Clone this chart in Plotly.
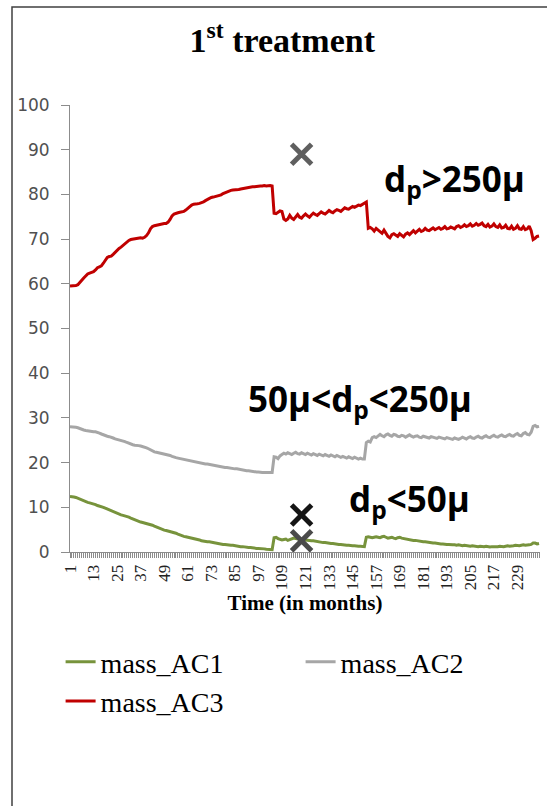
import plotly.graph_objects as go

months = list(range(1, 241))
tick_labels = ["1", "13", "25", "37", "49", "61", "73", "85", "97", "109", "121", "133",
               "145", "157", "169", "181", "193", "205", "217", "229"]

mass_AC3 = [
    59.5, 59.5, 59.6, 59.6, 59.8, 60.2, 60.8, 61.3, 61.8, 62.2, 62.4, 62.5,
    62.7, 63.1, 63.6, 63.8, 64.0, 64.6, 65.3, 65.9, 66.1, 66.2, 66.6, 67.1,
    67.5, 67.9, 68.2, 68.6, 69.0, 69.4, 69.7, 69.9, 70.0, 70.1, 70.1, 70.2,
    70.3, 70.2, 70.4, 70.8, 71.4, 72.3, 72.8, 73.0, 73.1, 73.3, 73.3, 73.4,
    73.5, 73.5, 73.8, 74.4, 75.2, 75.6, 75.8, 75.9, 76.0, 76.1, 76.2, 76.5,
    76.9, 77.3, 77.6, 77.8, 77.8, 77.9, 78.0, 78.1, 78.3, 78.6, 78.9, 79.1,
    79.3, 79.4, 79.5, 79.6, 79.7, 79.9, 80.2, 80.4, 80.6, 80.8, 80.9, 81.0,
    81.0, 81.0, 81.1, 81.2, 81.3, 81.4, 81.5, 81.5, 81.6, 81.7, 81.7, 81.8,
    81.8, 81.9, 81.9, 82.0, 81.9, 82.0, 82.0, 81.9, 75.8, 75.7, 76.1, 76.3,
    76.2, 74.5, 74.2, 74.5, 75.3, 74.7, 74.4, 75.0, 75.5, 74.9, 74.7, 75.2,
    75.6, 75.2, 74.9, 75.4, 75.8, 75.5, 75.3, 75.7, 76.1, 75.8, 75.6, 76.0,
    76.4, 76.1, 75.9, 76.3, 76.6, 76.4, 76.2, 76.6, 77.0, 76.8, 76.7, 77.0,
    77.3, 77.1, 77.4, 77.6, 77.5, 77.8, 78.1, 78.3, 72.4, 72.6, 72.3, 71.8,
    72.4, 72.0, 71.5, 71.3, 72.0, 71.4, 70.6, 70.3, 71.0, 71.2, 70.8, 70.6,
    71.2, 70.9, 70.5, 71.1, 71.4, 71.0, 71.5, 71.9, 71.4, 71.8, 72.2, 71.7,
    71.9, 72.4, 72.0, 71.9, 72.3, 72.5, 72.1, 72.3, 72.6, 72.2, 72.4, 72.8,
    72.3, 72.4, 72.7, 72.5, 72.3, 72.8, 73.0, 72.6, 72.8, 73.2, 72.8, 73.0,
    73.4, 72.9, 73.1, 73.5, 73.1, 73.3, 73.6, 73.0, 72.8, 73.3, 72.7, 72.9,
    73.4, 72.8, 72.6, 73.2, 72.5, 72.6, 73.1, 72.4, 72.3, 72.9, 72.2, 72.4,
    73.0, 72.3, 72.2, 72.8, 72.1, 72.3, 72.9, 71.9, 69.9, 70.2, 70.6, 70.7,
]

mass_AC2 = [
    28.0, 28.0, 28.0, 27.9, 27.8, 27.6, 27.4, 27.3, 27.2, 27.1, 27.0, 27.0,
    26.9, 26.9, 26.8, 26.6, 26.4, 26.2, 26.0, 25.9, 25.8, 25.7, 25.5, 25.3,
    25.2, 25.1, 25.0, 24.9, 24.7, 24.5, 24.3, 24.1, 24.0, 23.9, 23.9, 23.8,
    23.7, 23.6, 23.5, 23.3, 23.1, 22.8, 22.6, 22.4, 22.3, 22.2, 22.2, 22.1,
    22.0, 21.9, 21.8, 21.6, 21.4, 21.2, 21.1, 21.0, 20.9, 20.9, 20.8, 20.7,
    20.6, 20.5, 20.4, 20.3, 20.1, 20.0, 19.9, 19.8, 19.8, 19.7, 19.7, 19.6,
    19.5, 19.4, 19.3, 19.2, 19.1, 19.0, 19.0, 18.9, 18.9, 18.8, 18.8, 18.7,
    18.6, 18.6, 18.5, 18.4, 18.3, 18.3, 18.2, 18.2, 18.1, 18.0, 18.0, 17.9,
    17.9, 17.8, 17.8, 17.8, 17.8, 17.8, 17.8, 17.8, 21.3, 21.2, 20.9, 21.5,
    21.8, 22.1, 21.9, 22.2, 22.0, 21.8, 22.1, 22.3, 22.0, 21.9, 22.2, 22.0,
    21.8, 22.1, 21.9, 21.7, 22.0, 21.8, 21.6, 21.9, 21.7, 21.5, 21.8, 21.6,
    21.4, 21.7, 21.5, 21.3, 21.6, 21.4, 21.2, 21.4, 21.2, 21.0, 21.3, 21.1,
    20.9, 21.2, 21.0, 20.8, 21.0, 20.8, 20.8, 24.5, 24.8, 24.6, 25.6, 25.8,
    25.6, 26.0, 26.3, 26.0, 25.8, 26.2, 26.4, 26.1, 25.9, 26.3, 26.2, 25.9,
    25.8, 26.1, 26.0, 25.7, 25.9, 26.2, 25.9, 25.7, 25.9, 26.0, 25.7, 25.6,
    25.9, 25.8, 25.6, 25.5, 25.8, 25.7, 25.5, 25.4, 25.7, 25.6, 25.4, 25.3,
    25.6, 25.5, 25.3, 25.2, 25.5, 25.4, 25.2, 25.4, 25.7, 25.5, 25.3, 25.6,
    25.8, 25.5, 25.4, 25.7, 25.9, 25.6, 25.5, 25.8, 26.0, 25.7, 25.6, 25.9,
    26.1, 25.8, 25.7, 26.0, 26.2, 25.9, 25.8, 26.1, 26.3, 26.0, 25.9, 26.3,
    26.5, 26.1, 26.0, 26.5, 26.7, 26.3, 26.2, 26.8, 28.1, 28.3, 28.0, 28.1,
]

mass_AC1 = [
    12.4, 12.4, 12.3, 12.2, 12.0, 11.8, 11.6, 11.4, 11.3, 11.1, 11.0, 10.9,
    10.7, 10.6, 10.4, 10.3, 10.2, 10.0, 9.8, 9.6, 9.4, 9.2, 9.0, 8.8,
    8.7, 8.5, 8.3, 8.2, 8.1, 8.0, 7.8, 7.6, 7.4, 7.2, 7.0, 6.9,
    6.7, 6.6, 6.5, 6.4, 6.3, 6.2, 6.0, 5.8, 5.6, 5.4, 5.2, 5.0,
    4.9, 4.8, 4.7, 4.6, 4.5, 4.4, 4.2, 4.0, 3.8, 3.6, 3.5, 3.4,
    3.3, 3.2, 3.2, 3.1, 3.0, 2.8, 2.7, 2.5, 2.4, 2.4, 2.3, 2.3,
    2.2, 2.1, 2.0, 1.9, 1.8, 1.8, 1.7, 1.7, 1.6, 1.6, 1.5, 1.5,
    1.4, 1.3, 1.3, 1.2, 1.2, 1.1, 1.1, 1.0, 1.0, 0.9, 0.9, 0.8,
    0.8, 0.8, 0.7, 0.7, 0.6, 0.6, 0.5, 0.5, 3.2, 3.3, 3.0, 2.8,
    2.7, 2.8, 2.9, 2.6, 2.8, 3.0, 3.1, 3.0, 2.9, 2.8, 2.8, 2.7,
    2.7, 2.6, 2.6, 2.5, 2.5, 2.4, 2.3, 2.3, 2.2, 2.1, 2.1, 2.0,
    2.0, 1.9, 1.9, 1.8, 1.8, 1.7, 1.7, 1.6, 1.6, 1.5, 1.5, 1.4,
    1.4, 1.4, 1.3, 1.3, 1.3, 1.2, 1.2, 3.3, 3.4, 3.3, 3.2, 3.3,
    3.4, 3.3, 3.2, 3.4, 3.5, 3.3, 3.1, 3.2, 3.3, 3.1, 3.0, 3.2,
    3.3, 3.1, 3.0, 2.9, 2.8, 2.8, 2.7, 2.6, 2.6, 2.5, 2.5, 2.4,
    2.3, 2.3, 2.2, 2.2, 2.1, 2.0, 2.0, 1.9, 1.9, 1.8, 1.8, 1.7,
    1.7, 1.7, 1.6, 1.6, 1.6, 1.5, 1.6, 1.5, 1.4, 1.5, 1.4, 1.4,
    1.3, 1.4, 1.3, 1.3, 1.2, 1.3, 1.2, 1.2, 1.3, 1.2, 1.1, 1.2,
    1.2, 1.1, 1.2, 1.3, 1.2, 1.2, 1.3, 1.4, 1.3, 1.3, 1.4, 1.5,
    1.4, 1.4, 1.5, 1.6, 1.5, 1.5, 1.6, 1.7, 2.0, 2.0, 1.8, 1.9,
]

# cross markers (month, value, colour)
marker_months = [119, 119, 119]
marker_values = [89, 8.3, 2.5]
marker_colors = ["#5f5f5f", "#151515", "#4a4a4a"]

# size-class labels
label_texts = ["<b>d<sub>p</sub>>250μ</b>", "<b>50μ<d<sub>p</sub><250μ</b>", "<b>d<sub>p</sub><50μ</b>"]
label_months = [197, 149, 174]
label_values = [83.2, 34.0, 11.6]

fig = go.Figure()
fig.add_trace(go.Scatter(x=months, y=mass_AC1, mode="lines", name="mass_AC1",
                         line=dict(color="#77933C", width=3)))
fig.add_trace(go.Scatter(x=months, y=mass_AC2, mode="lines", name="mass_AC2",
                         line=dict(color="#A6A6A6", width=3)))
fig.add_trace(go.Scatter(x=months, y=mass_AC3, mode="lines", name="mass_AC3",
                         line=dict(color="#C00000", width=3)))
for mx, my, mc in zip(marker_months, marker_values, marker_colors):
    fig.add_trace(go.Scatter(x=[mx], y=[my], mode="markers", showlegend=False,
                             marker=dict(symbol="x-thin", size=20,
                                         line=dict(color=mc, width=5))))

for t, mx, my in zip(label_texts, label_months, label_values):
    fig.add_annotation(x=mx, y=my, text=t, showarrow=False, xanchor="center", yanchor="middle",
                       font=dict(family="Open Sans", size=35, color="#000000"))

fig.update_layout(
    width=547, height=806,
    margin=dict(l=70, r=7, t=105, b=254),
    paper_bgcolor="white", plot_bgcolor="white",
    title=dict(text="<b>1<sup>st</sup> treatment</b>", x=0.516, xref="container", xanchor="center",
               y=1 - 40 / 806, yref="container", yanchor="middle",
               font=dict(family="Liberation Serif", size=34, color="#000000")),
    showlegend=True,
    legend=dict(orientation="h", x=-0.02, xanchor="left", y=-0.19, yanchor="top",
                entrywidth=195, entrywidthmode="pixels",
                font=dict(family="Liberation Serif", size=28, color="#000000"),
                bgcolor="rgba(0,0,0,0)", tracegroupgap=0),
    shapes=[dict(type="rect", xref="paper", yref="paper", x0=-0.1234, x1=1.2, y0=-0.7, y1=1.219,
                 line=dict(color="#404040", width=1.5), fillcolor="rgba(0,0,0,0)", layer="below")],
)

fig.update_xaxes(
    range=[1, 240.5], showgrid=False, zeroline=False,
    showline=True, linecolor="#8c8c8c", linewidth=1,
    tickmode="array", tickvals=[int(s) for s in tick_labels], ticktext=tick_labels,
    ticks="outside", ticklen=5, tickcolor="#8c8c8c", tickangle=-90,
    tickfont=dict(family="Liberation Serif", size=17, color="#222222"),
    minor=dict(tickmode="array", tickvals=months, ticks="outside", ticklen=5, tickcolor="#8c8c8c"),
    title=dict(text="<b>Time (in months)</b>", standoff=6,
               font=dict(family="Liberation Serif", size=21, color="#000000")),
)
fig.update_yaxes(
    range=[0, 100], dtick=10, showgrid=False, zeroline=False,
    showline=True, linecolor="#8c8c8c", linewidth=1,
    ticks="outside", ticklen=8, tickcolor="#8c8c8c", ticklabelstandoff=8,
    tickfont=dict(family="DejaVu Sans", size=17, color="#505050"),
)

fig.write_html("out.html")
